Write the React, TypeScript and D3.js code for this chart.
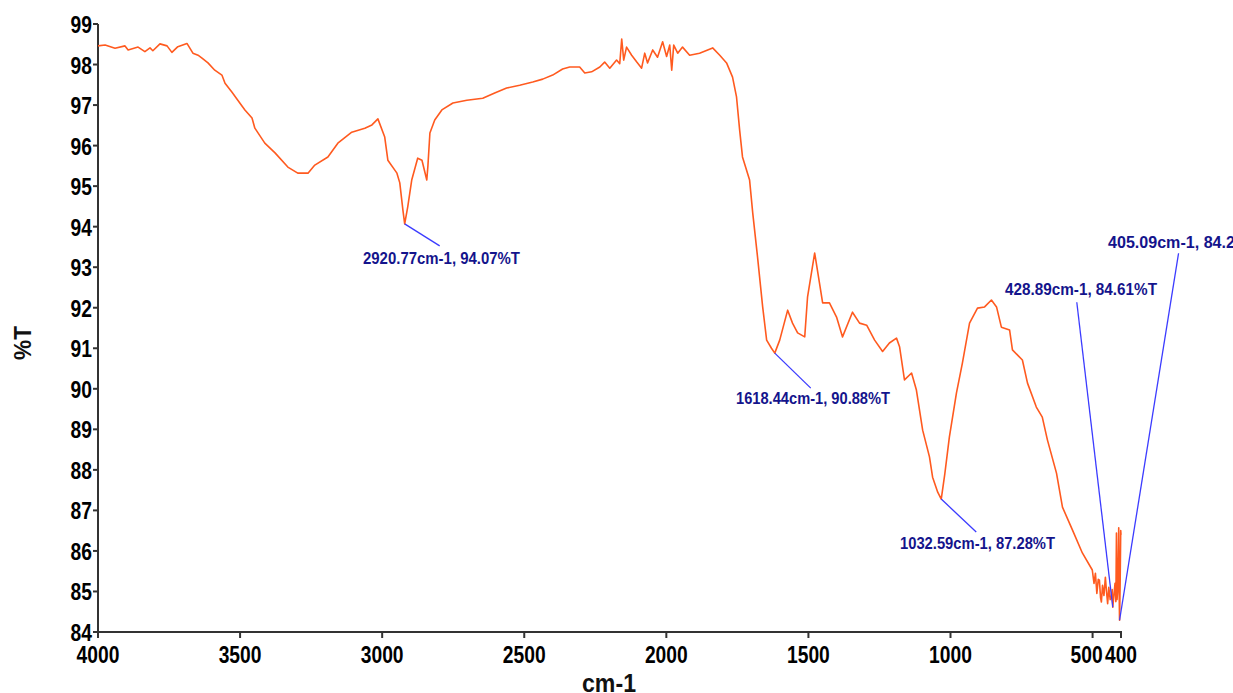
import React from "react";
import * as d3 from "d3";

// FTIR spectrum: wavenumber (cm-1) and transmittance (%T)
const wavenumbers: number[] = [
  4000, 3975, 3940, 3905, 3894, 3859, 3835, 3817, 3807, 3782, 3757, 3740, 3719, 3687, 3666, 3648,
  3634, 3613, 3589, 3564, 3553, 3529, 3508, 3483, 3458, 3448, 3413, 3377, 3332, 3297, 3261, 3237,
  3191, 3156, 3107, 3061, 3036, 3015, 2991, 2980, 2948, 2938, 2927, 2920.77, 2910, 2896, 2875, 2860,
  2843, 2839, 2832, 2815, 2790, 2751, 2702, 2646, 2604, 2562, 2516, 2470, 2435, 2400, 2365, 2340,
  2305, 2287, 2263, 2234, 2217, 2199, 2175, 2164, 2157, 2150, 2140, 2122, 2104, 2087, 2076, 2066,
  2048, 2031, 2013, 1999, 1988, 1981, 1974, 1960, 1943, 1918, 1883, 1837, 1812, 1788, 1767, 1753,
  1742, 1732, 1707, 1696, 1679, 1661, 1647, 1630, 1618.44, 1601, 1573, 1556, 1538, 1513, 1503, 1478,
  1461, 1450, 1426, 1401, 1380, 1345, 1320, 1295, 1267, 1239, 1215, 1190, 1179, 1162, 1137, 1120,
  1098, 1074, 1063, 1045, 1032.59, 1020, 1004, 979, 958, 933, 905, 880, 856, 838, 821, 792,
  782, 747, 729, 698, 677, 659, 627, 606, 571, 536, 501, 495, 490, 485, 480, 476,
  472, 469, 465, 460, 455, 451, 447, 443, 438, 434, 431, 428.89, 425, 421, 418, 416,
  414, 411, 408, 406.5, 405.09, 403, 401, 400,
];

const transmittance: number[] = [
  98.46, 98.48, 98.4, 98.46, 98.36, 98.43, 98.32, 98.41, 98.34, 98.51, 98.46, 98.3, 98.44, 98.52, 98.28, 98.23,
  98.16, 98.04, 97.86, 97.74, 97.54, 97.32, 97.12, 96.88, 96.68, 96.43, 96.06, 95.82, 95.47, 95.32, 95.32, 95.52,
  95.72, 96.06, 96.33, 96.43, 96.51, 96.66, 96.21, 95.64, 95.32, 95.08, 94.41, 94.07, 94.49, 95.15, 95.69, 95.64,
  95.15, 95.5, 96.31, 96.63, 96.88, 97.05, 97.12, 97.17, 97.3, 97.42, 97.49, 97.57, 97.64, 97.74, 97.89, 97.94,
  97.94, 97.79, 97.82, 97.94, 98.06, 97.91, 98.11, 98.02, 98.63, 98.11, 98.43, 98.23, 98.06, 97.91, 98.28, 98.04,
  98.36, 98.18, 98.56, 98.2, 98.48, 97.86, 98.48, 98.28, 98.43, 98.23, 98.28, 98.41, 98.23, 98.04, 97.69, 97.2,
  96.38, 95.72, 95.15, 94.34, 93.25, 92.02, 91.2, 91.0, 90.88, 91.2, 91.94, 91.62, 91.38, 91.28, 92.27, 93.35,
  92.61, 92.12, 92.12, 91.77, 91.28, 91.89, 91.62, 91.57, 91.2, 90.92, 91.13, 91.25, 91.03, 90.22, 90.39, 89.97,
  88.98, 88.32, 87.82, 87.45, 87.28, 87.9, 88.81, 89.9, 90.64, 91.62, 91.99, 92.02, 92.19, 92.02, 91.52, 91.45,
  90.96, 90.71, 90.14, 89.55, 89.3, 88.74, 87.92, 87.08, 86.52, 85.95, 85.53, 85.2, 85.45, 84.95, 85.3, 85.28,
  84.85, 84.74, 85.15, 84.9, 85.35, 85.0, 84.7, 85.1, 84.8, 84.86, 85.05, 84.61, 84.9, 85.2, 84.75, 86.44,
  84.8, 85.1, 86.57, 85.0, 84.29, 85.2, 86.5, 86.4,
];

// Peak labels
const peakWavenumbers: number[] = [2920.77, 1618.44, 1032.59, 428.89, 405.09];
const peakValues: number[] = [94.07, 90.88, 87.28, 84.61, 84.29];
const peakTexts: string[] = [
  "2920.77cm-1, 94.07%T",
  "1618.44cm-1, 90.88%T",
  "1032.59cm-1, 87.28%T",
  "428.89cm-1, 84.61%T",
  "405.09cm-1, 84.29%T",
];
// leader-line end offsets (px) from the peak point, and label placement
const peakLabelDx: number[] = [35, 36, 35, -36, 59];
const peakLabelDy: number[] = [22, 35, 33, -305, -367];
const peakTextX: number[] = [363, 736, 900, 1005, 1108];
const peakTextY: number[] = [264, 404, 549, 295, 248];
const peakTextW: number[] = [157, 154, 155, 152, 160];

const xTicks: number[] = [4000, 3500, 3000, 2500, 2000, 1500, 1000, 500, 400];
const yTicks: number[] = d3.range(84, 100);

const W = 1233;
const H = 693;
const X0 = 98;
const X1 = 1121;
const Y0 = 632;
const Y1 = 24;
const DIGIT_W = 10.7;

const narrow = "'Liberation Sans Narrow', 'Arial Narrow', 'Liberation Sans', Arial, sans-serif";

export default function App() {
  const x = d3.scaleLinear().domain([4000, 400]).range([X0, X1]);
  const y = d3.scaleLinear().domain([84, 99]).range([Y0, Y1]);

  const points: [number, number][] = wavenumbers.map((w, i) => [w, transmittance[i]]);
  const line = d3
    .line<[number, number]>()
    .x((d) => x(d[0]))
    .y((d) => y(d[1]));

  return (
    <div style={{ position: "absolute", left: 0, top: 0 }}>
      <svg width={W} height={H} style={{ display: "block", background: "#fff", overflow: "hidden" }}>
        {/* axes */}
        <line x1={X0} x2={X0} y1={Y1} y2={Y0 + 1} stroke="#333" strokeWidth={2} />
        <line x1={X0 - 1} x2={X1 + 1} y1={Y0} y2={Y0} stroke="#333" strokeWidth={2} />
        {yTicks.map((t) => (
          <g key={"y" + t}>
            <line x1={X0 - 5} x2={X0} y1={y(t)} y2={y(t)} stroke="#333" strokeWidth={2} />
            <text
              x={X0 - 6}
              y={y(t) + 9}
              textAnchor="end"
              fontFamily={narrow}
              fontWeight="bold"
              fontSize={24}
              fill="#000"
              textLength={String(t).length * DIGIT_W}
              lengthAdjust="spacingAndGlyphs"
            >
              {t}
            </text>
          </g>
        ))}
        {xTicks.map((t) => (
          <g key={"x" + t}>
            <line x1={x(t)} x2={x(t)} y1={Y0} y2={Y0 + 6} stroke="#333" strokeWidth={2} />
            <text
              x={t === 500 ? x(t) - 6 : x(t)}
              y={663}
              textAnchor="middle"
              fontFamily={narrow}
              fontWeight="bold"
              fontSize={24}
              fill="#000"
              textLength={String(t).length * DIGIT_W}
              lengthAdjust="spacingAndGlyphs"
            >
              {t}
            </text>
          </g>
        ))}
        <text
          x={609}
          y={692}
          textAnchor="middle"
          fontFamily="'Liberation Sans', Arial, sans-serif"
          fontWeight="bold"
          fontSize={26}
          fill="#111"
          textLength={54}
          lengthAdjust="spacingAndGlyphs"
        >
          cm-1
        </text>
        <text
          transform="translate(31,343) rotate(-90)"
          textAnchor="middle"
          fontFamily="'Liberation Sans', Arial, sans-serif"
          fontWeight="bold"
          fontSize={24}
          fill="#111"
          textLength={34}
          lengthAdjust="spacingAndGlyphs"
        >
          %T
        </text>

        {/* spectrum */}
        <path d={line(points) ?? ""} fill="none" stroke="#ff5a1f" strokeWidth={1.6} strokeLinejoin="round" />

        {/* peak annotations */}
        {peakWavenumbers.map((w, i) => {
          const px = x(w);
          const py = y(peakValues[i]);
          return (
            <g key={"p" + i}>
              <line
                x1={px}
                y1={py}
                x2={px + peakLabelDx[i]}
                y2={py + peakLabelDy[i]}
                stroke="#3b3bff"
                strokeWidth={1.3}
              />
              <text
                x={peakTextX[i]}
                y={peakTextY[i]}
                fontFamily={narrow}
                fontWeight="bold"
                fontSize={17}
                fill="#14148c"
                textLength={peakTextW[i]}
                lengthAdjust="spacingAndGlyphs"
              >
                {peakTexts[i]}
              </text>
            </g>
          );
        })}
      </svg>
    </div>
  );
}
